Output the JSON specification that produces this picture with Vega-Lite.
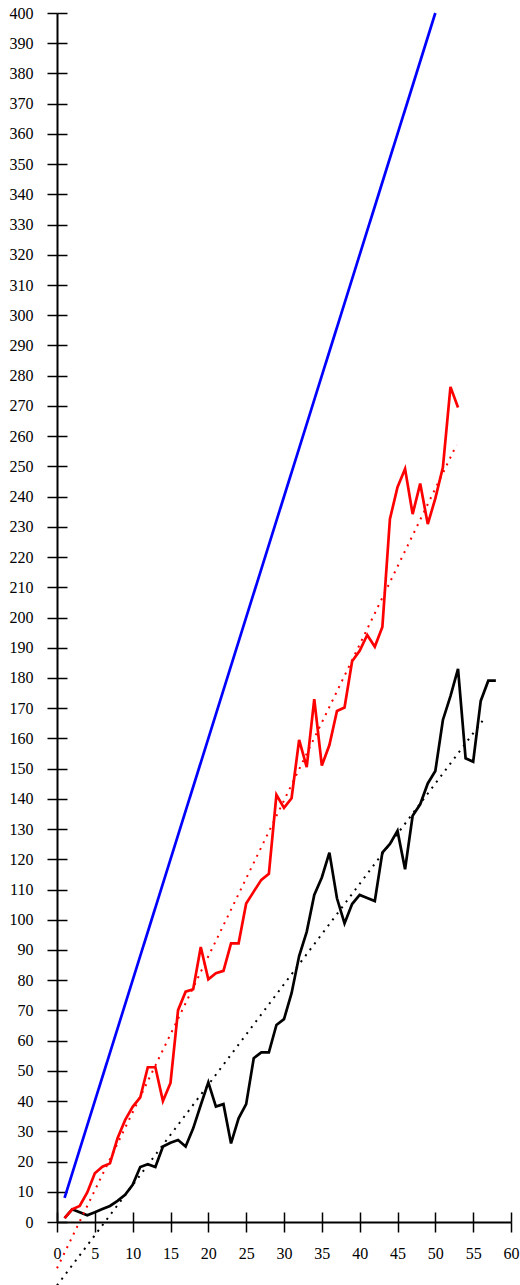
{
  "$schema": "https://vega.github.io/schema/vega-lite/v6.json",
  "width": 454,
  "height": 1209,
  "autosize": {"type": "none"},
  "padding": {"left": 57, "top": 13, "right": 9, "bottom": 63},
  "background": "white",
  "config": {"view": {"stroke": null}},
  "datasets": {
    "black": [
      {"x": 1, "y": 1.3}, {"x": 2, "y": 4.2}, {"x": 3, "y": 3.2}, {"x": 4, "y": 2.2}, {"x": 5, "y": 3.2},
      {"x": 6, "y": 4.3}, {"x": 7, "y": 5.3}, {"x": 8, "y": 7}, {"x": 9, "y": 9}, {"x": 10, "y": 12.3},
      {"x": 11, "y": 18.2}, {"x": 12, "y": 19.1}, {"x": 13, "y": 18.2}, {"x": 14, "y": 25}, {"x": 15, "y": 26.2},
      {"x": 16, "y": 27.1}, {"x": 17, "y": 25}, {"x": 18, "y": 31}, {"x": 19, "y": 38.7}, {"x": 20, "y": 46.2},
      {"x": 21, "y": 38.2}, {"x": 22, "y": 39}, {"x": 23, "y": 26}, {"x": 24, "y": 34.3}, {"x": 25, "y": 39},
      {"x": 26, "y": 54.2}, {"x": 27, "y": 56.1}, {"x": 28, "y": 56.1}, {"x": 29, "y": 65.2}, {"x": 30, "y": 67.1},
      {"x": 31, "y": 75.7}, {"x": 32, "y": 88}, {"x": 33, "y": 96}, {"x": 34, "y": 108.2}, {"x": 35, "y": 114},
      {"x": 36, "y": 122.2}, {"x": 37, "y": 107.1}, {"x": 38, "y": 98.8}, {"x": 39, "y": 105.2}, {"x": 40, "y": 108.2},
      {"x": 41, "y": 107.2}, {"x": 42, "y": 106.2}, {"x": 43, "y": 122.2}, {"x": 44, "y": 125.1}, {"x": 45, "y": 129.4},
      {"x": 46, "y": 116.7}, {"x": 47, "y": 134.4}, {"x": 48, "y": 138.2}, {"x": 49, "y": 145.1}, {"x": 50, "y": 149.2},
      {"x": 51, "y": 166.1}, {"x": 52, "y": 174}, {"x": 53, "y": 183}, {"x": 54, "y": 153.4}, {"x": 55, "y": 152.3},
      {"x": 56, "y": 172.4}, {"x": 57, "y": 179.1}, {"x": 58, "y": 179.1}
    ],
    "red": [
      {"x": 1, "y": 1.3}, {"x": 2, "y": 4.2}, {"x": 3, "y": 5.3}, {"x": 4, "y": 9.8}, {"x": 5, "y": 16.1},
      {"x": 6, "y": 18.3}, {"x": 7, "y": 19.4}, {"x": 8, "y": 27.7}, {"x": 9, "y": 33.7}, {"x": 10, "y": 38.1},
      {"x": 11, "y": 41.2}, {"x": 12, "y": 51.2}, {"x": 13, "y": 51.2}, {"x": 14, "y": 40}, {"x": 15, "y": 46},
      {"x": 16, "y": 70.1}, {"x": 17, "y": 76.2}, {"x": 18, "y": 77}, {"x": 19, "y": 91}, {"x": 20, "y": 80.3},
      {"x": 21, "y": 82.3}, {"x": 22, "y": 83.1}, {"x": 23, "y": 92.2}, {"x": 24, "y": 92.2}, {"x": 25, "y": 105.4},
      {"x": 26, "y": 109.3}, {"x": 27, "y": 113.2}, {"x": 28, "y": 115.2}, {"x": 29, "y": 141.3}, {"x": 30, "y": 137},
      {"x": 31, "y": 140.2}, {"x": 32, "y": 159.5}, {"x": 33, "y": 150.5}, {"x": 34, "y": 173}, {"x": 35, "y": 151},
      {"x": 36, "y": 157.8}, {"x": 37, "y": 169.1}, {"x": 38, "y": 170.2}, {"x": 39, "y": 185.5}, {"x": 40, "y": 189},
      {"x": 41, "y": 194.2}, {"x": 42, "y": 190.3}, {"x": 43, "y": 196.9}, {"x": 44, "y": 232.6}, {"x": 45, "y": 243.1},
      {"x": 46, "y": 249.2}, {"x": 47, "y": 234.2}, {"x": 48, "y": 244.3}, {"x": 49, "y": 230.9}, {"x": 50, "y": 239.4},
      {"x": 51, "y": 249.7}, {"x": 52, "y": 276.3}, {"x": 53, "y": 269.5}
    ],
    "blue": [
      {"x": 1, "y": 8}, {"x": 50, "y": 400}
    ],
    "trend": [
      {"s": "black", "x": 0, "y": -21}, {"s": "black", "x": 56.6, "y": 167},
      {"s": "red", "x": 0, "y": -15.3}, {"s": "red", "x": 52.8, "y": 257.1}
    ]
  },
  "resolve": {"axis": {"x": "independent", "y": "independent"}},
  "layer": [
    {
      "data": {"name": "black"},
      "mark": {"type": "line", "color": "#000000", "strokeWidth": 2.7},
      "encoding": {
        "x": {
          "field": "x", "type": "quantitative",
          "scale": {"domain": [0, 60], "nice": false, "zero": false},
          "axis": {
            "orient": "bottom", "title": null, "grid": false,
            "values": [0, 5, 10, 15, 20, 25, 30, 35, 40, 45, 50, 55, 60],
            "domainColor": "#000000", "domainWidth": 2,
            "tickColor": "#000000", "tickWidth": 1.5, "tickSize": 10,
            "labelFont": "Liberation Serif", "labelFontSize": 16, "labelColor": "#000000",
            "labelPadding": 13, "labelFlush": false, "labelOverlap": false, "labelBound": false
          }
        },
        "y": {
          "field": "y", "type": "quantitative",
          "scale": {"domain": [0, 400], "nice": false, "zero": false},
          "axis": {
            "orient": "left", "title": null, "grid": false,
            "values": [0, 10, 20, 30, 40, 50, 60, 70, 80, 90, 100, 110, 120, 130, 140, 150, 160, 170, 180, 190, 200, 210, 220, 230, 240, 250, 260, 270, 280, 290, 300, 310, 320, 330, 340, 350, 360, 370, 380, 390, 400],
            "domainColor": "#000000", "domainWidth": 2,
            "tickColor": "#000000", "tickWidth": 1.5, "tickSize": 10,
            "labelFont": "Liberation Serif", "labelFontSize": 16, "labelColor": "#000000",
            "labelPadding": 14, "labelFlush": false, "labelOverlap": false, "labelBound": false
          }
        }
      }
    },
    {
      "data": {"name": "trend"},
      "mark": {"type": "line", "strokeWidth": 2, "strokeDash": [2, 5.5], "clip": false},
      "encoding": {
        "x": {
          "field": "x", "type": "quantitative",
          "scale": {"domain": [0, 60], "nice": false, "zero": false},
          "axis": {
            "orient": "bottom", "title": null, "grid": false, "offset": -10,
            "domain": false, "labels": false,
            "values": [0, 5, 10, 15, 20, 25, 30, 35, 40, 45, 50, 55, 60],
            "tickColor": "#000000", "tickWidth": 1.5, "tickSize": 10
          }
        },
        "y": {
          "field": "y", "type": "quantitative",
          "scale": {"domain": [0, 400], "nice": false, "zero": false},
          "axis": {
            "orient": "left", "title": null, "grid": false, "offset": -10,
            "domain": false, "labels": false,
            "values": [0, 10, 20, 30, 40, 50, 60, 70, 80, 90, 100, 110, 120, 130, 140, 150, 160, 170, 180, 190, 200, 210, 220, 230, 240, 250, 260, 270, 280, 290, 300, 310, 320, 330, 340, 350, 360, 370, 380, 390, 400],
            "tickColor": "#000000", "tickWidth": 1.5, "tickSize": 10
          }
        },
        "color": {
          "field": "s", "type": "nominal",
          "scale": {"domain": ["black", "red"], "range": ["#000000", "#ff0000"]},
          "legend": null
        }
      }
    },
    {
      "data": {"name": "red"},
      "mark": {"type": "line", "color": "#ff0000", "strokeWidth": 2.7},
      "encoding": {
        "x": {"field": "x", "type": "quantitative", "scale": {"domain": [0, 60], "nice": false, "zero": false}, "axis": null},
        "y": {"field": "y", "type": "quantitative", "scale": {"domain": [0, 400], "nice": false, "zero": false}, "axis": null}
      }
    },
    {
      "data": {"name": "blue"},
      "mark": {"type": "line", "color": "#0000ff", "strokeWidth": 2.7},
      "encoding": {
        "x": {"field": "x", "type": "quantitative", "scale": {"domain": [0, 60], "nice": false, "zero": false}, "axis": null},
        "y": {"field": "y", "type": "quantitative", "scale": {"domain": [0, 400], "nice": false, "zero": false}, "axis": null}
      }
    }
  ]
}
